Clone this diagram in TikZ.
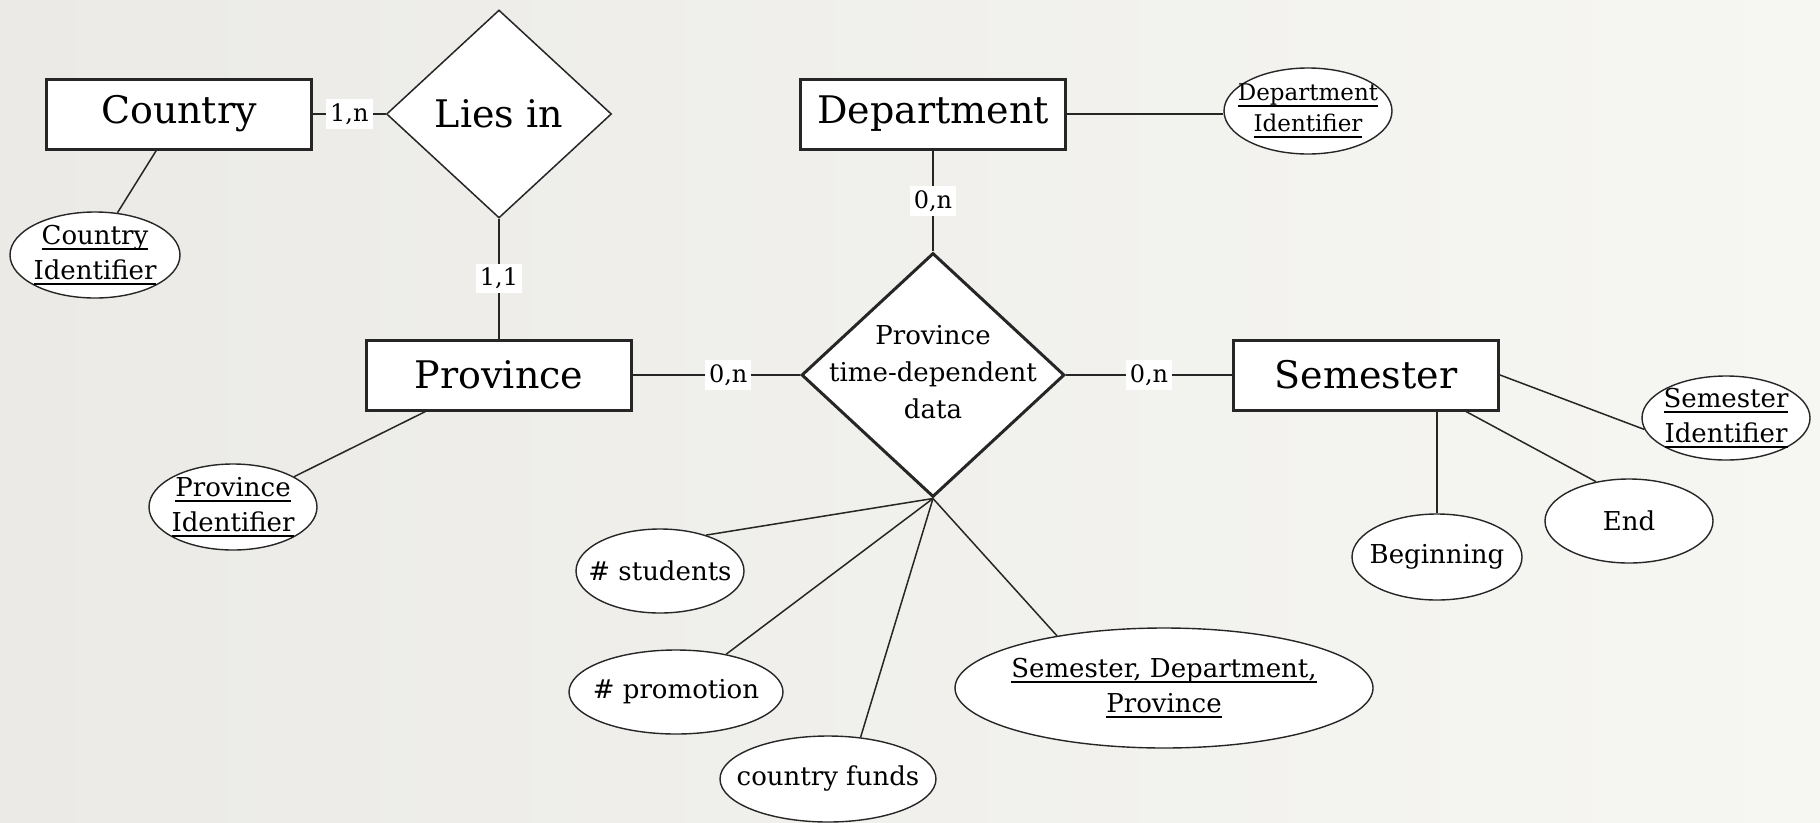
\documentclass[tikz,border=0pt]{standalone}
\usepackage{fontspec}
\setmainfont{DejaVu Serif}
\usetikzlibrary{shapes.geometric}

% underlined key attribute text with a rule of our own thickness
\newcommand{\idul}[1]{\setbox0\hbox{#1}\leavevmode\rlap{\rule[-6pt]{\wd0}{1.8pt}}\box0}

\definecolor{ink}{HTML}{262626}
\definecolor{paperL}{HTML}{EBEAE6}
\definecolor{paperR}{HTML}{F6F6F3}

\tikzset{
  entity/.style={draw=ink, line width=3pt, fill=white, minimum width=265pt,
    minimum height=70pt, inner sep=0pt, font=\fontsize{38}{46}\selectfont},
  relation/.style={diamond, draw=ink, fill=white, inner sep=0pt},
  attr/.style={ellipse, draw=ink, line width=1.4pt, fill=white, inner sep=0pt},
  attrtext/.style={inner sep=0pt, align=center, font=\fontsize{26}{35}\selectfont},
  card/.style={fill=white, inner sep=4pt, font=\fontsize{24}{28}\selectfont},
  link/.style={draw=ink, line width=1.5pt},
}

\begin{document}
\begin{tikzpicture}[x=1pt, y=-1pt]
  % paper background
  \shade[left color=paperL, right color=paperR] (0,0) rectangle (1820,822);
  \useasboundingbox (0,0) rectangle (1820,822);

  % entities
  \node[entity] (country)  at (179,114)  {Country};
  \node[entity] (province) at (499,375)  {Province};
  \node[entity] (dept)     at (933,114)  {Department};
  \node[entity] (semester) at (1366,375) {Semester};

  % relationships
  \node[relation, line width=1.5pt, minimum width=225pt, minimum height=208pt,
        font=\fontsize{38}{46}\selectfont] (liesin) at (499,114) {Lies in};
  \node[relation, line width=3pt, minimum width=263pt, minimum height=244pt]
        (rel) at (933,375) {};
  \node[align=center, font=\fontsize{26}{37}\selectfont] (reltext) at (933,372)
        {Province\\time-dependent\\data};

  % attribute ellipses
  \node[attr, minimum width=170pt, minimum height=86pt] (countryid) at (95,255) {};
  \node[attr, minimum width=168pt, minimum height=86pt] (provinceid) at (233,507) {};
  \node[attr, minimum width=168pt, minimum height=86pt] (deptid) at (1308,111) {};
  \node[attr, minimum width=168pt, minimum height=84pt] (semid) at (1726,418) {};
  \node[attr, minimum width=168pt, minimum height=84pt] (endattr) at (1629,521) {};
  \node[attr, minimum width=170pt, minimum height=86pt] (begin) at (1437,557) {};
  \node[attr, minimum width=168pt, minimum height=84pt] (students) at (660,571) {};
  \node[attr, minimum width=214pt, minimum height=84pt] (promotion) at (676,692) {};
  \node[attr, minimum width=216pt, minimum height=86pt] (funds) at (828,779) {};
  \node[attr, minimum width=418pt, minimum height=120pt] (keyattr) at (1164,688) {};

  % attribute names
  \node[attrtext] (countryidT) at (countryid) {\idul{Country}\\\idul{Identifier}};
  \node[attrtext] (provinceidT) at (provinceid) {\idul{Province}\\\idul{Identifier}};
  \node[attrtext, font=\fontsize{23}{31}\selectfont] (deptidT) at (deptid)
        {\idul{Department}\\\idul{Identifier}};
  \node[attrtext] (semidT) at (semid) {\idul{Semester}\\\idul{Identifier}};
  \node[attrtext] (endattrT) at (endattr) {End};
  \node[attrtext] (beginT) at (begin) {Beginning};
  \node[attrtext] (studentsT) at (students) {\# students};
  \node[attrtext] (promotionT) at (promotion) {\# promotion};
  \node[attrtext] (fundsT) at (funds) {country funds};
  \node[attrtext] (keyattrT) at (keyattr) {\idul{Semester, Department,}\\\idul{Province}};

  % relationship links with cardinalities
  \draw[link] (country) -- node[card] (c1) {1,n} (liesin);
  \draw[link] (liesin) -- node[card] (c2) {1,1} (province);
  \draw[link] (dept) -- node[card] (c3) {0,n} (rel);
  \draw[link] (province) -- node[card, pos=0.57] (c4) {0,n} (rel);
  \draw[link] (rel) -- node[card] (c5) {0,n} (semester);

  % attribute links
  \draw[link] (country) -- (countryid.62);
  \draw[link] (province) -- (provinceid);
  \draw[link] (dept.east) -- (dept.east -| deptid.west);
  \draw[link] (semester.east) -- (semid.188);
  \draw[link] ([xshift=-34pt]semester.south east) -- (endattr.130);
  \draw[link] (begin.north |- semester.south) -- (begin.north);
  \draw[link] (rel.south) -- (students.38);
  \draw[link] (rel.south) -- (promotion.37);
  \draw[link] (rel.south) -- (funds.52);
  \draw[link] (rel.south) -- (keyattr.154);
\end{tikzpicture}
\end{document}
